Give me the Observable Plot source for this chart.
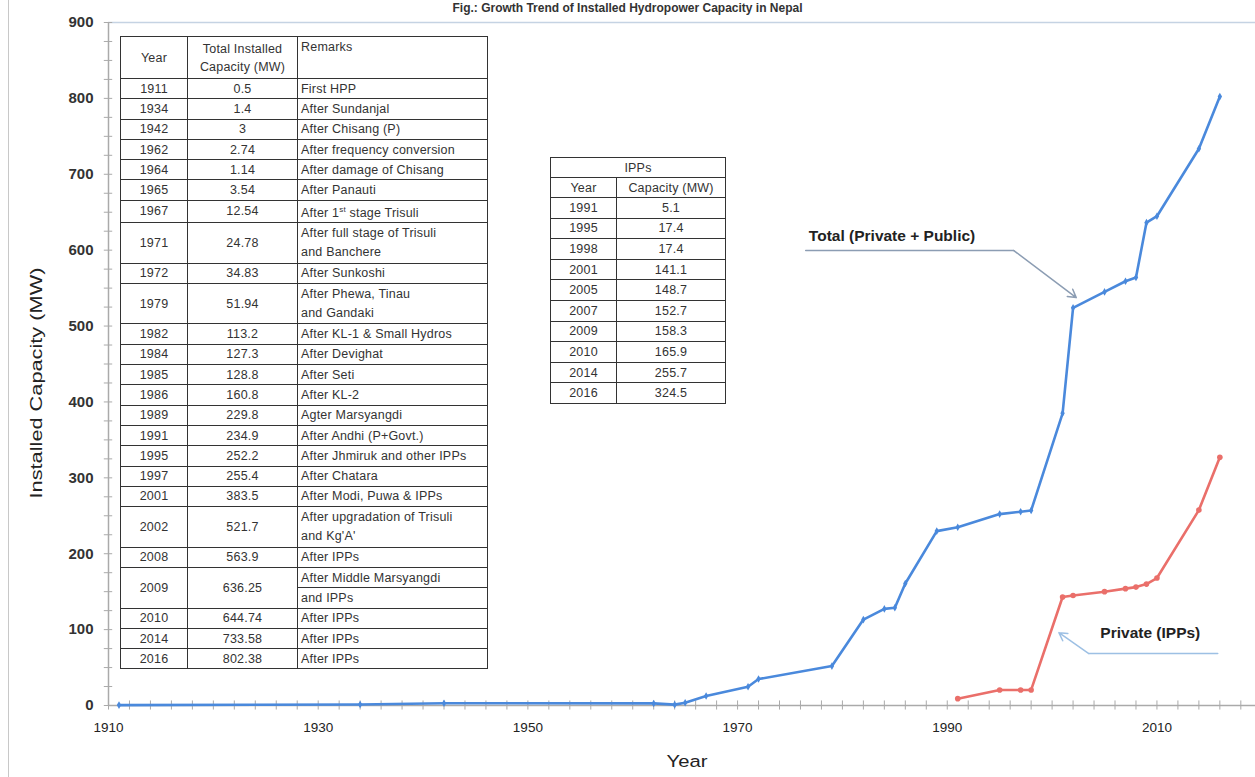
<!DOCTYPE html>
<html><head><meta charset="utf-8">
<script src="https://cdn.jsdelivr.net/npm/d3@7"></script>
<script src="https://cdn.jsdelivr.net/npm/@observablehq/plot@0.6"></script>
<style>
body{margin:0;background:#fff;}
#wrap{position:relative;width:1255px;height:777px;overflow:hidden;font-family:"Liberation Sans",Arial,sans-serif;background:#fff;}
#wrap svg{position:absolute;left:0;top:0;}
.frame{position:absolute;left:8px;top:0;width:0;height:777px;border-left:1.5px solid #c8c8c8;}
.title{position:absolute;top:1px;left:0;width:1255px;text-align:center;font-weight:bold;font-size:12px;line-height:14px;color:#333;white-space:nowrap;}
.ytitle{position:absolute;left:36px;top:383px;transform:translate(-50%,-50%) rotate(-90deg) scale(1.45,1.05);font-size:15px;color:#222;white-space:nowrap;}
.xtitle{position:absolute;left:687px;top:761px;transform:translate(-50%,-50%) scale(1.35,1.05);font-size:15px;color:#222;}
table.t{position:absolute;border-collapse:collapse;font-size:12.5px;letter-spacing:0.2px;color:#333;background:#fff;table-layout:fixed;}
table.t td{border:1.5px solid #333;padding:0 3px;line-height:18px;overflow:hidden;white-space:nowrap;}
table.t td.c{text-align:center;}
table.t td.r{text-align:left;vertical-align:middle;}
</style></head><body><div id="wrap"></div>
<script>
// ---- line data ----
const totalYears = [1911, 1934, 1942, 1962, 1964, 1965, 1967, 1971, 1972, 1979, 1982, 1984, 1985, 1986, 1989, 1991, 1995, 1997, 1998, 2001, 2002, 2005, 2007, 2008, 2009, 2010, 2014, 2016];
const totalMW    = [0.5, 1.4, 3, 2.74, 1.14, 3.54, 12.54, 24.78, 34.83, 51.94, 113.2, 127.3, 128.8, 160.8, 229.8, 234.9, 252.2, 255.4, 257, 385, 524, 545, 559, 563.9, 636.25, 644.74, 733.58, 802.38];
const ippYears   = [1991, 1995, 1997, 1998, 2001, 2002, 2005, 2007, 2008, 2009, 2010, 2014, 2016];
const ippMW      = [9, 20.5, 20.5, 20.5, 143, 145, 150, 154, 156, 160, 168, 257.5, 327];

// ---- table 1 ----
const tblYears   = ["1911","1934","1942","1962","1964","1965","1967","1971","1972","1979","1982","1984","1985","1986","1989","1991","1995","1997","2001","2002","2008","2009","2010","2014","2016"];
const tblCaps    = ["0.5","1.4","3","2.74","1.14","3.54","12.54","24.78","34.83","51.94","113.2","127.3","128.8","160.8","229.8","234.9","252.2","255.4","383.5","521.7","563.9","636.25","644.74","733.58","802.38"];
const tblRemarks = [["First HPP"],["After Sundanjal"],["After Chisang (P)"],["After frequency conversion"],["After damage of Chisang"],["After Panauti"],["After 1<sup style=\"font-size:8px\">st</sup> stage Trisuli"],["After full stage of Trisuli","and Banchere"],["After Sunkoshi"],["After Phewa, Tinau","and Gandaki"],["After KL-1 & Small Hydros"],["After Devighat"],["After Seti"],["After KL-2"],["Agter Marsyangdi"],["After Andhi (P+Govt.)"],["After Jhmiruk and other IPPs"],["After Chatara"],["After Modi, Puwa & IPPs"],["After upgradation of Trisuli","and Kg'A'"],["After IPPs"],["After Middle Marsyangdi","and IPPs"],["After IPPs"],["After IPPs"],["After IPPs"]];
const tblHeader  = ["Year","Total Installed<br>Capacity (MW)","Remarks"];
const splitRemarkYears = ["2009"];

// ---- table 2 (IPPs) ----
const ippTblTitle = "IPPs";
const ippTblHeader = ["Year","Capacity (MW)"];
const ippTblYears = ["1991","1995","1998","2001","2005","2007","2009","2010","2014","2016"];
const ippTblCaps  = ["5.1","17.4","17.4","141.1","148.7","152.7","158.3","165.9","255.7","324.5"];

// ---- axes ----
const xTicks = [1910, 1930, 1950, 1970, 1990, 2010];
const yTicks = [0, 100, 200, 300, 400, 500, 600, 700, 800, 900];
const xMinor = d3.range(1910, 2020, 2);
const yMinor = d3.range(0, 901, 25);

// ---- annotations ----
const totalLabel = {text: "Total (Private + Public)", x: 1976.8, y: 618};
const totalLeader = [[1976.5, 599.5], [1996.35, 599.5]];
const totalArrow = {x1: 1996.35, y1: 599.5, x2: 2002.3, y2: 537.5};
const ippLabel = {text: "Private (IPPs)", x: 2004.6, y: 95};
const ippLeader = [[2015.8, 68.5], [2003.5, 68.5]];
const ippArrow = {x1: 2003.5, y1: 68.5, x2: 2000.65, y2: 96};

const BLUE = "#4a89dc", RED = "#ea6f6a";
const total = totalYears.map((y, i) => ({year: y, mw: totalMW[i]}));
const ipp = ippYears.map((y, i) => ({year: y, mw: ippMW[i]}));

const wrap = document.getElementById("wrap");
wrap.insertAdjacentHTML("beforeend", `<div class="frame"></div><div class="title">Fig.: Growth Trend of Installed Hydropower Capacity in Nepal</div>`);

const plot = Plot.plot({
  width: 1255, height: 777,
  marginLeft: 108, marginRight: 0, marginTop: 22, marginBottom: 72,
  x: {domain: [1910, 2019.4]},
  y: {domain: [0, 900]},
  style: {fontFamily: "Liberation Sans, Arial, sans-serif", fontSize: "13px", color: "#222", background: "transparent", overflow: "visible"},
  marks: [
    Plot.ruleY([900], {stroke: "#c5d3e3", strokeWidth: 1.5}),
    Plot.ruleX(xMinor, {x: d => d, y1: -6, y2: 6, stroke: "#aaa", strokeWidth: 1}),
    Plot.ruleY(yMinor, {y: d => d, x1: 1909.6, x2: 1910.4, stroke: "#aaa", strokeWidth: 1}),
    Plot.ruleY([0], {stroke: "#aaa", strokeWidth: 1.5}),
    Plot.ruleX([1910], {stroke: "#aaa", strokeWidth: 1.5}),
    Plot.axisX({ticks: xTicks, tickSize: 0, tickPadding: 17, tickFormat: d => String(d), label: null, fontSize: 13.5}),
    Plot.axisY({ticks: yTicks, tickSize: 0, tickPadding: 15, label: null, fontSize: 15, fontWeight: "bold", fill: "#333"}),
    Plot.line(total, {x: "year", y: "mw", stroke: BLUE, strokeWidth: 2.6}),
    Plot.dot(total, {x: "year", y: "mw", fill: BLUE, r: 2.3, symbol: "diamond"}),
    Plot.line(ipp, {x: "year", y: "mw", stroke: RED, strokeWidth: 2.6}),
    Plot.dot(ipp, {x: "year", y: "mw", fill: RED, r: 2.8}),
    Plot.line(totalLeader, {x: d => d[0], y: d => d[1], stroke: "#8c9db3", strokeWidth: 1.5}),
    Plot.arrow([totalArrow], {x1: "x1", y1: "y1", x2: "x2", y2: "y2", stroke: "#8c9db3", strokeWidth: 1.5, headLength: 9}),
    Plot.line(ippLeader, {x: d => d[0], y: d => d[1], stroke: "#9dc0e4", strokeWidth: 1.5}),
    Plot.arrow([ippArrow], {x1: "x1", y1: "y1", x2: "x2", y2: "y2", stroke: "#9dc0e4", strokeWidth: 1.5, headLength: 9}),
    Plot.text([totalLabel], {x: "x", y: "y", text: "text", textAnchor: "start", fontWeight: "bold", fontSize: 15.5, fill: "#222"}),
    Plot.text([ippLabel], {x: "x", y: "y", text: "text", textAnchor: "start", fontWeight: "bold", fontSize: 15.5, fill: "#222"})
  ]
});
wrap.appendChild(plot);

wrap.insertAdjacentHTML("beforeend", `<div class="ytitle">Installed Capacity (MW)</div><div class="xtitle">Year</div>`);

// table 1
const RH = 20.3;
let h = `<table class="t" style="left:120px;top:36px;width:367px;">
<colgroup><col style="width:67px"><col style="width:110px"><col style="width:190px"></colgroup>
<tr style="height:42px"><td class="c">${tblHeader[0]}</td><td class="c" style="line-height:18px">${tblHeader[1]}</td><td style="vertical-align:top;line-height:20px">${tblHeader[2]}</td></tr>`;
tblYears.forEach((yr, i) => {
  const rem = tblRemarks[i];
  if (splitRemarkYears.includes(yr)) {
    h += `<tr style="height:${RH}px"><td class="c" rowspan="2">${yr}</td><td class="c" rowspan="2">${tblCaps[i]}</td><td class="r">${rem[0]}</td></tr>`;
    h += `<tr style="height:${RH}px"><td class="r">${rem[1]}</td></tr>`;
  } else {
    const n = rem.length;
    h += `<tr style="height:${RH * n}px"><td class="c">${yr}</td><td class="c">${tblCaps[i]}</td><td class="r" style="line-height:${n > 1 ? 19 : 18}px">${rem.join("<br>")}</td></tr>`;
  }
});
h += `</table>`;

// table 2
let h2 = `<table class="t" style="left:550px;top:157px;width:175px;">
<colgroup><col style="width:66px"><col style="width:109px"></colgroup>
<tr style="height:20px"><td class="c" colspan="2">${ippTblTitle}</td></tr>
<tr style="height:20px"><td class="c">${ippTblHeader[0]}</td><td class="c">${ippTblHeader[1]}</td></tr>`;
ippTblYears.forEach((yr, i) => {
  h2 += `<tr style="height:20.6px"><td class="c">${yr}</td><td class="c">${ippTblCaps[i]}</td></tr>`;
});
h2 += `</table>`;
wrap.insertAdjacentHTML("beforeend", h + h2);
</script>
</body></html>
